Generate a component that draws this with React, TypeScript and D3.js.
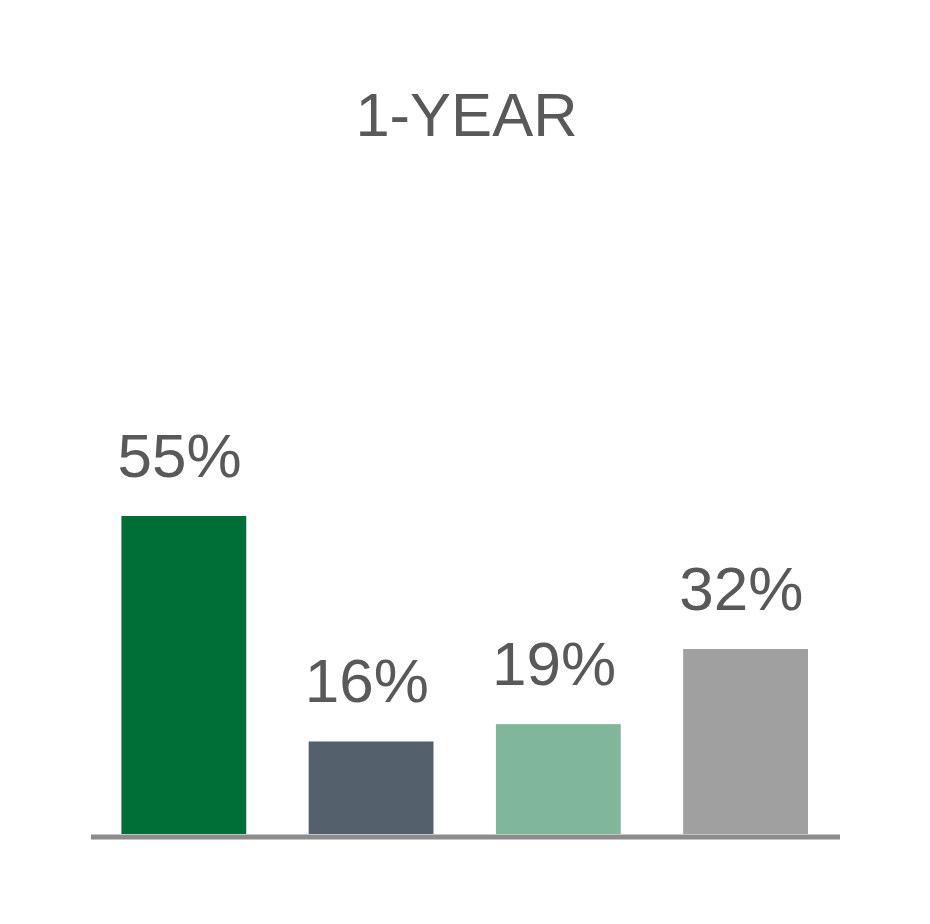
import React from "react";
import * as d3 from "d3";

const categories = ["A", "B", "C", "D"];
const values = [55, 16, 19, 32];
const colors = ["#006E37", "#54606C", "#80B79B", "#A0A0A0"];
const title = "1-YEAR";

const W = 930;
const H = 924;
const left = 91;
const right = 840;
const baseY = 834;
const textColor = "#595959";
const font = "'Liberation Sans', Arial, Helvetica, sans-serif";

export default function App() {
  const x = d3
    .scaleBand<string>()
    .domain(categories)
    .range([left, right])
    .paddingInner(1 / 3)
    .paddingOuter(1 / 6);
  const y = d3.scaleLinear().domain([0, 55]).range([baseY, 516]);

  return (
    <svg
      width={W}
      height={H}
      style={{ position: "absolute", left: 0, top: 0, display: "block", background: "#fff" }}
    >
      <text
        x={(left + right) / 2 + 1}
        y={136}
        textAnchor="middle"
        fontFamily={font}
        fontSize={61.5}
        fill={textColor}
      >
        {title}
      </text>
      {categories.map((c, i) => {
        const v = values[i];
        const bx = x(c)!;
        const top = y(v);
        return (
          <g key={c}>
            <rect x={bx - 0.8} y={top} width={x.bandwidth()} height={baseY - top} fill={colors[i]} />
            <text
              x={bx + x.bandwidth() / 2 - 5}
              y={top - 39}
              textAnchor="middle"
              fontFamily={font}
              fontSize={62}
              fill={textColor}
            >
              {`${v}%`}
            </text>
          </g>
        );
      })}
      <line x1={left} x2={right} y1={837} y2={837} stroke="#8C8C8C" strokeWidth={5} />
    </svg>
  );
}
